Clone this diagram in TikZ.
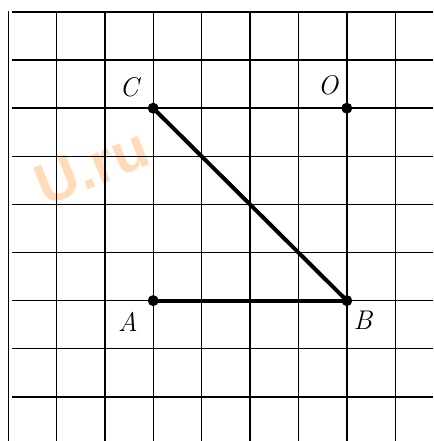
\documentclass[tikz,border=0pt]{standalone}
\usepackage{fontspec}
\newfontfamily\wmfont{Liberation Sans}
\begin{document}
\begin{tikzpicture}[x=1pt,y=-1pt,
  gridline/.style={line width=1.4pt,black},
  seg/.style={line width=4pt,black},
  ptdot/.style={circle,fill=black,inner sep=0pt,minimum size=11pt},
  ptlabel/.style={font=\fontsize{27}{27}\selectfont\itshape,inner sep=0pt},
  wmark/.style={text=orange!28,font=\wmfont\bfseries\fontsize{58}{58}\selectfont,rotate=22,inner sep=0pt}]
\useasboundingbox (0,0) rectangle (433,441);
\fill[white] (0,0) rectangle (433,441);
% watermark
\node[wmark] (wm) at (92,167) {U.ru};
% grid
\draw[gridline] (8.5,11) -- (8.5,441);
\foreach \k in {1,...,8} {
  \draw[gridline] ({8+48.4*\k},12) -- ({8+48.4*\k},441);
}
\foreach \k in {0,...,8} {
  \draw[gridline] (12,{12+48.1*\k}) -- (433,{12+48.1*\k});
}
% points
\node[ptdot] (C) at (153.2,108.2) {};
\node[ptdot] (O) at (346.8,108.2) {};
\node[ptdot] (A) at (153.2,300.6) {};
\node[ptdot] (B) at (346.8,300.6) {};
\draw[seg] (C.center) -- (B.center);
\draw[seg] (A.center) -- (B.center);
% labels
\node[ptlabel] (lC) at (129,87) {C};
\node[ptlabel] (lO) at (328,85) {O};
\node[ptlabel] (lA) at (128,322) {A};
\node[ptlabel] (lB) at (363,320) {B};
\end{tikzpicture}
\end{document}
